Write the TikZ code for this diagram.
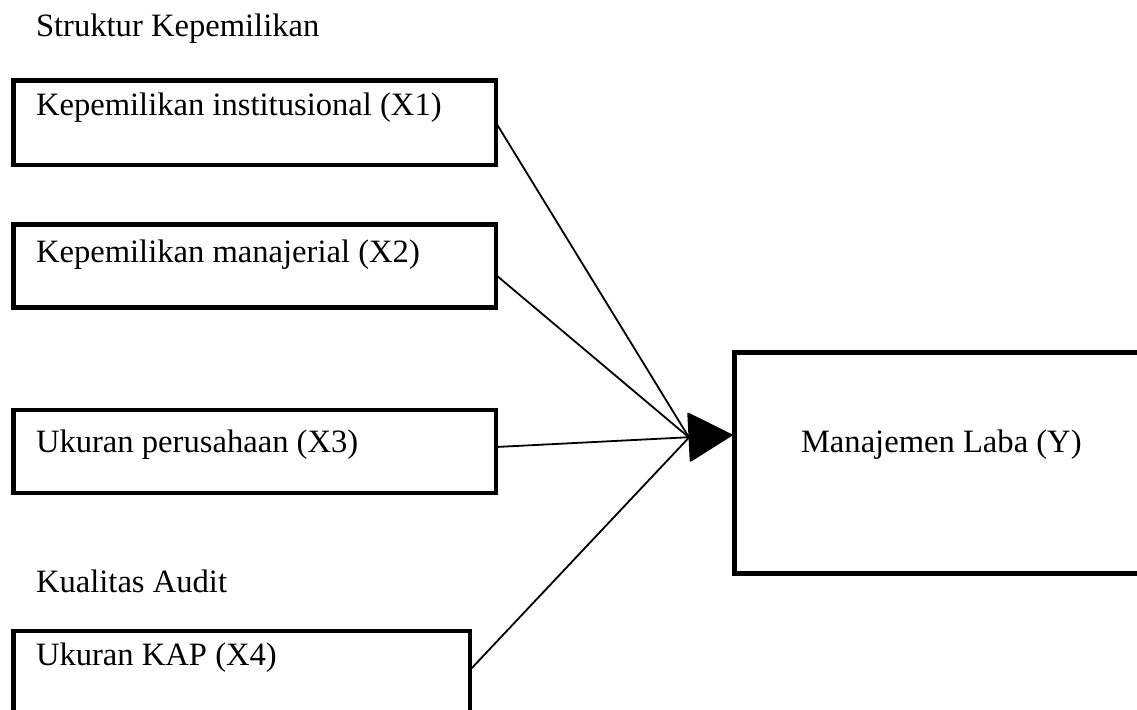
\documentclass[tikz,border=0pt]{standalone}
\usepackage{fontspec}
\setmainfont{Liberation Serif}
\usetikzlibrary{arrows.meta}
\begin{document}
\begin{tikzpicture}[x=1pt,y=-1pt,
  box/.style={draw=black,line width=4.4pt,rectangle,inner sep=0pt,outer sep=0pt,anchor=north west},
  lbl/.style={inner sep=0pt,outer sep=0pt,anchor=base west,font=\fontsize{32.6}{38}\selectfont},
  conn/.style={line width=1.8pt,black}]
\useasboundingbox (0,0) rectangle (1137,709);
\clip (0,0) rectangle (1137,709);
\fill[white] (0,0) rectangle (1137,709);
% boxes
\node[box,minimum width=482.5pt,minimum height=84.5pt] (b1) at (13.5,80.5) {};
\node[box,minimum width=482.5pt,minimum height=83pt] (b2) at (13.5,224.5) {};
\node[box,minimum width=482.5pt,minimum height=83pt] (b3) at (13.5,410) {};
\node[box,minimum width=456.5pt,minimum height=100pt] (b4) at (13.5,631) {};
\node[box,minimum width=440pt,minimum height=221pt] (y) at (734.5,352.5) {};
% labels
\node[lbl] (t0) at (36,37) {Struktur Kepemilikan};
\node[lbl] (t1) at (36,115) {Kepemilikan institusional (X1)};
\node[lbl] (t2) at (36,262) {Kepemilikan manajerial (X2)};
\node[lbl] (t3) at (36,452) {Ukuran perusahaan (X3)};
\node[lbl] (ta) at (36,592) {Kualitas Audit};
\node[lbl] (t4) at (36,665) {Ukuran KAP (X4)};
\node[lbl] (ty) at (801,452) {Manajemen Laba (Y)};
% connectors
\coordinate (m) at (689,437.5);
\coordinate (tip) at (732.5,435);
\draw[conn] (b1.east) -- (m);
\draw[conn] ([yshift=-50.5pt]b2.north east) -- (m);
\draw[conn] ([yshift=-39pt]b4.north east) -- (m);
\draw[conn,-{Triangle[length=45pt,width=50pt,round]}] ([yshift=-37pt]b3.north east) -- (tip);
\end{tikzpicture}
\end{document}
